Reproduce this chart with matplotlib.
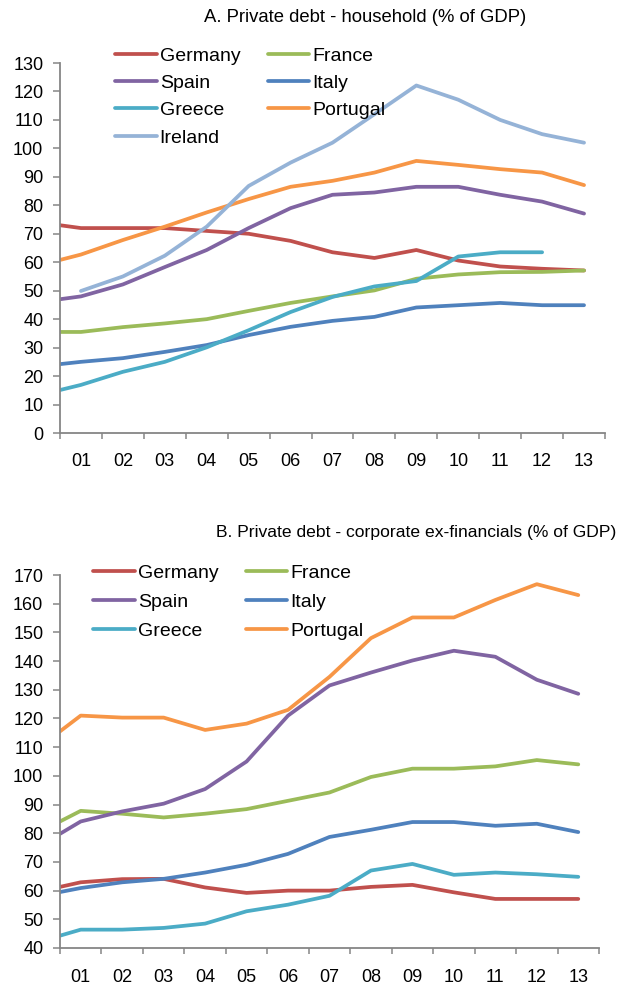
import numpy as np
import matplotlib
matplotlib.use('Agg')
import matplotlib.pyplot as plt

plt.rcParams['font.family'] = ['Liberation Sans', 'DejaVu Sans']

# x labels (years 2001-2013); the first point of each series sits on the left edge (2000)
years = ['01', '02', '03', '04', '05', '06', '07', '08', '09', '10', '11', '12', '13']

# A. household debt (% of GDP), 2000..2013
hh_germany = [73, 72, 72, 72, 71, 70, 67.5, 63.5, 61.5, 64.3, 60.6, 58.5, 57.7, 57.1]
hh_france = [35.5, 35.5, 37.2, 38.5, 40, 42.9, 45.7, 48, 50.1, 54.2, 55.7, 56.5, 56.6, 57.1]
hh_spain = [47, 48, 52.2, 58.3, 64.3, 72, 79, 83.7, 84.5, 86.5, 86.5, 83.7, 81.3, 77.1]
hh_italy = [24.2, 25, 26.3, 28.5, 30.9, 34.4, 37.3, 39.4, 40.8, 44.1, 44.9, 45.7, 44.9, 44.9]
hh_greece = [15.1, 16.9, 21.5, 25, 30.1, 36.1, 42.5, 47.8, 51.5, 53.4, 62, 63.5, 63.5, np.nan]
hh_portugal = [60.8, 62.7, 67.8, 72.5, 77.5, 82.2, 86.5, 88.6, 91.5, 95.6, 94.2, 92.7, 91.5, 87.1]
hh_ireland = [np.nan, 49.9, 55, 62.3, 72.5, 86.8, 95, 102, 112, 122.1, 117.1, 110, 105, 102]

# B. corporate ex-financials debt (% of GDP), 2000..2013
co_germany = [61.3, 62.9, 64, 64.1, 61.1, 59.2, 60, 60, 61.3, 62, 59.4, 57.1, 57.1, 57.1]
co_france = [84.1, 87.8, 86.8, 85.5, 86.8, 88.4, 91.3, 94.2, 99.6, 102.5, 102.5, 103.3, 105.5, 104]
co_spain = [79.8, 84.1, 87.6, 90.3, 95.4, 105, 121, 131.5, 136, 140.2, 143.6, 141.5, 133.5, 128.6]
co_italy = [59.5, 60.9, 62.9, 64.1, 66.3, 69, 72.8, 78.7, 81.2, 83.9, 83.9, 82.6, 83.3, 80.4]
co_greece = [44.3, 46.4, 46.4, 47, 48.5, 52.8, 55.1, 58.2, 67, 69.3, 65.5, 66.3, 65.7, 64.8]
co_portugal = [115.5, 121, 120.3, 120.3, 116, 118.2, 123, 134.5, 148, 155.2, 155.2, 161.3, 166.8, 163]

colors = {
    'Germany': '#C0504D',
    'France': '#9BBB59',
    'Spain': '#8064A2',
    'Italy': '#4F81BD',
    'Greece': '#4BACC6',
    'Portugal': '#F79646',
    'Ireland': '#95B3D7',
}

W, H = 620, 985
fig = plt.figure(figsize=(W / 100, H / 100), dpi=100)

# category positions: left edge for 2000, then centre of each year slot
xpos = np.r_[-0.5, np.arange(len(years))]
axis_grey = '#868686'


def style_axis(ax, ylim, ystep, xpad):
    ax.set_xlim(-0.5, len(years) - 0.5)
    ax.set_ylim(*ylim)
    ax.set_yticks(np.arange(ylim[0], ylim[1] + 1, ystep))
    ax.set_xticks(np.arange(-0.5, len(years)), labels=[])
    ax.set_xticks(np.arange(len(years)), labels=years, minor=True)
    ax.tick_params(axis='x', which='major', length=4, width=1.1, color=axis_grey)
    ax.tick_params(axis='x', which='minor', length=0, pad=xpad, labelsize=13)
    ax.tick_params(axis='y', length=5, width=1.1, color=axis_grey, labelsize=13, pad=7)
    for s in ['top', 'right']:
        ax.spines[s].set_visible(False)
    for s in ['left', 'bottom']:
        ax.spines[s].set_color(axis_grey)
        ax.spines[s].set_linewidth(1.3)


def add_legend(ax, names, x0, y0, spacing):
    handles = {l.get_label(): l for l in ax.get_lines()}
    # legend reads row by row, matplotlib fills column by column
    order = names[0::2] + names[1::2]
    ax.legend([handles[n] for n in order], order, ncol=2, frameon=False,
              loc='upper left', bbox_to_anchor=(x0 / W, 1 - y0 / H),
              bbox_transform=fig.transFigure, borderpad=0, borderaxespad=0,
              handlelength=2.15, handletextpad=0.15, columnspacing=1.4,
              labelspacing=spacing, fontsize=14)


# panel A
ax1 = fig.add_axes([60 / W, 1 - 433 / H, 545 / W, 370 / H])
series_a = [('Germany', hh_germany), ('France', hh_france), ('Spain', hh_spain),
            ('Italy', hh_italy), ('Greece', hh_greece), ('Portugal', hh_portugal),
            ('Ireland', hh_ireland)]
for name, vals in series_a:
    ax1.plot(xpos, vals, color=colors[name], lw=2.7, label=name,
             solid_capstyle='round', solid_joinstyle='round')
style_axis(ax1, (0, 130), 10, 14.5)
add_legend(ax1, [n for n, _ in series_a], 115, 47, 0.5)
fig.text(365 / W, 1 - 18 / H, 'A. Private debt - household (% of GDP)',
         ha='center', va='center', fontsize=13.3)

# panel B
ax2 = fig.add_axes([60 / W, 1 - 948 / H, 539 / W, 373 / H])
series_b = [('Germany', co_germany), ('France', co_france), ('Spain', co_spain),
            ('Italy', co_italy), ('Greece', co_greece), ('Portugal', co_portugal)]
for name, vals in series_b:
    ax2.plot(xpos, vals, color=colors[name], lw=2.7, label=name,
             solid_capstyle='round', solid_joinstyle='round')
style_axis(ax2, (40, 170), 10, 15)
add_legend(ax2, [n for n, _ in series_b], 93, 564, 0.6)
fig.text(616 / W, 1 - 533 / H, 'B. Private debt - corporate ex-financials (% of GDP)',
         ha='right', va='center', fontsize=12.6)

fig.savefig('out.png', dpi=100)
